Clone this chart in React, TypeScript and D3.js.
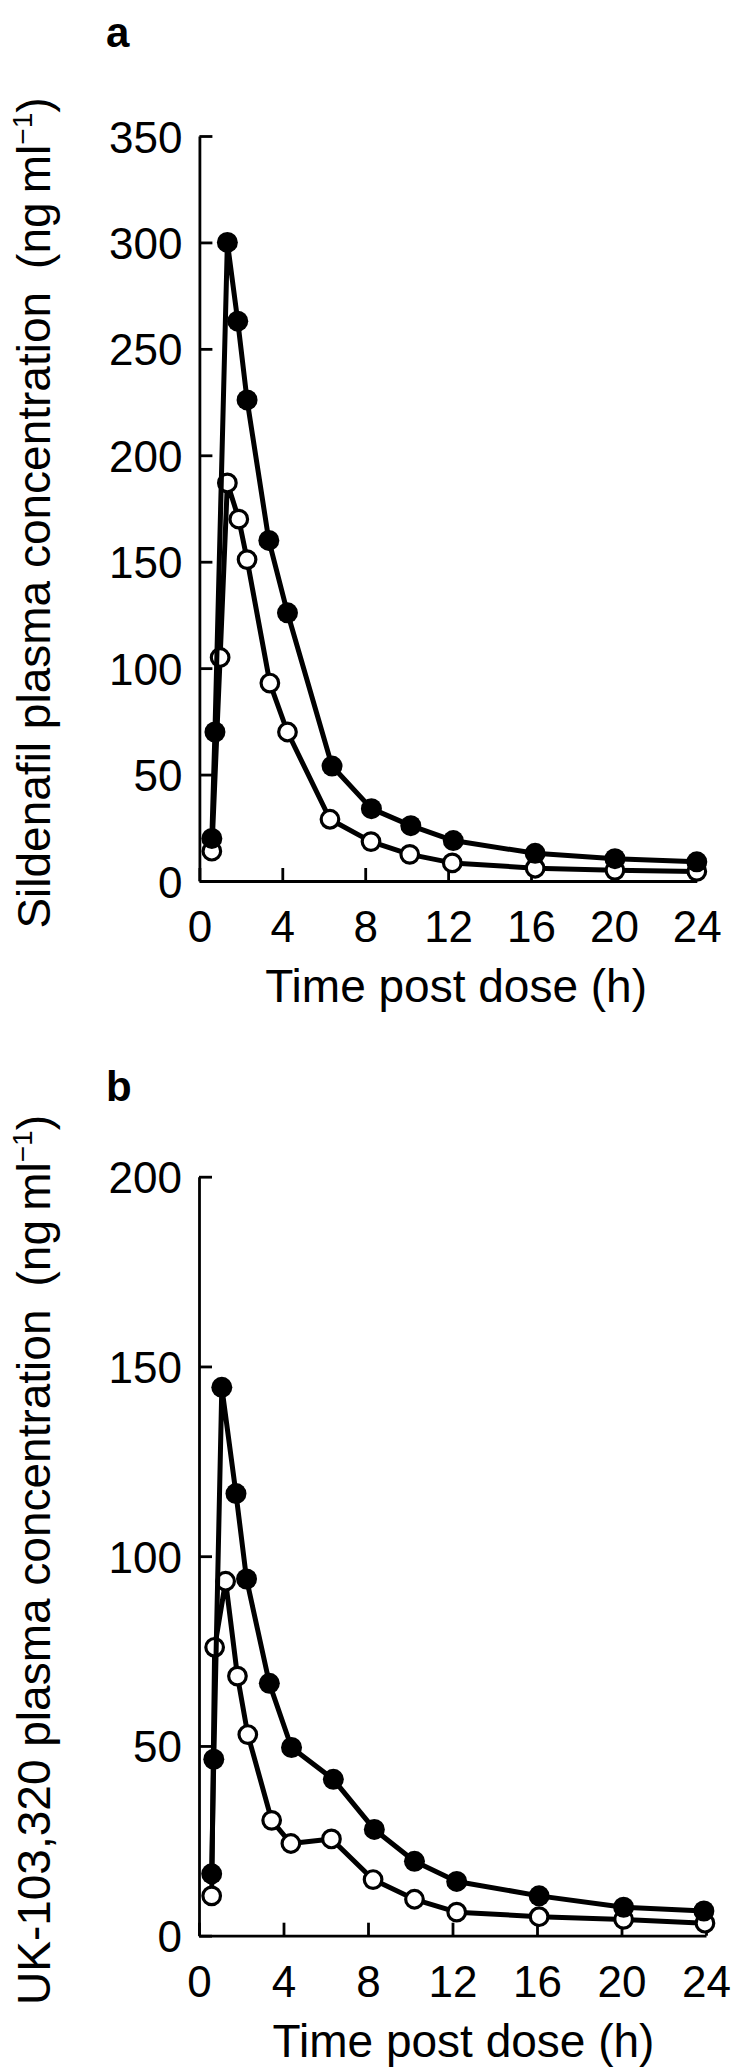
import { useEffect, useRef } from 'react';
import * as d3 from 'd3';

// Panel a: sildenafil (ng/ml), filled and open circles
const timesFilledA = [0.6, 0.75, 1.35, 1.85, 2.3, 3.35, 4.25, 6.4, 8.3, 10.2, 12.25, 16.2, 20.05, 24];
const filledA = [20, 70, 300, 263, 226, 160, 126, 54, 34, 26, 19, 13, 10.5, 9];
const timesOpenA = [0.6, 1.0, 1.35, 1.9, 2.3, 3.4, 4.25, 6.3, 8.28, 10.15, 12.2, 16.2, 20.05, 24];
const openA = [14, 105, 187, 170, 151, 93, 70, 29, 18.5, 12.5, 8.5, 6, 5, 4.5];

// Panel b: UK-103,320 (ng/ml)
const timesFilledB = [0.6, 0.7, 1.08, 1.75, 2.25, 3.33, 4.38, 6.36, 8.3, 10.2, 12.2, 16.1, 20.1, 23.9];
const filledB = [16.3, 46.5, 144.5, 116.5, 94, 66.5, 49.6, 41.2, 28, 19.6, 14.3, 10.5, 7.5, 6.5];
const timesOpenB = [0.6, 0.74, 1.26, 1.82, 2.31, 3.44, 4.35, 6.27, 8.24, 10.2, 12.2, 16.1, 20.1, 23.95];
const openB = [10.5, 76, 93.4, 68.4, 53, 30.4, 24.3, 25.5, 14.8, 9.6, 6.2, 5, 4.3, 3.3];

const xTicks = [0, 4, 8, 12, 16, 20, 24];
const yTicksA = [0, 50, 100, 150, 200, 250, 300, 350];
const yTicksB = [0, 50, 100, 150, 200];

const FONT = '"Liberation Sans", Arial, Helvetica, sans-serif';

interface Series {
  t: number[];
  v: number[];
  filled: boolean;
}

interface PanelCfg {
  letter: string;
  letterY: number;
  xRange: [number, number];
  yRange: [number, number];
  yMax: number;
  yTicks: number[];
  yTitle: string;
  yTitleCenter: number;
  xTitleShift: number;
  series: Series[];
}

function drawPanel(svg: d3.Selection<SVGSVGElement, unknown, null, undefined>, cfg: PanelCfg) {
  const x = d3.scaleLinear().domain([0, 24]).range(cfg.xRange);
  const y = d3.scaleLinear().domain([0, cfg.yMax]).range(cfg.yRange);
  const g = svg.append('g');

  // panel letter
  g.append('text')
    .attr('x', 106)
    .attr('y', cfg.letterY)
    .attr('font-family', FONT)
    .attr('font-weight', 'bold')
    .attr('font-size', 42)
    .text(cfg.letter);

  // X axis
  const xAxis = g.append('g')
    .attr('transform', `translate(0,${cfg.yRange[0]})`)
    .call(d3.axisBottom(x).tickValues(xTicks).tickSizeInner(-13).tickSizeOuter(0).tickPadding(0));
  xAxis.select('.domain').attr('stroke-width', 2.8);
  xAxis.selectAll('.tick line').attr('stroke-width', 2.8);
  xAxis.selectAll('.tick text')
    .attr('y', 61)
    .attr('dy', null)
    .attr('font-family', FONT)
    .attr('font-size', 44)
    .attr('fill', '#000');

  // Y axis
  const yAxis = g.append('g')
    .attr('transform', `translate(${cfg.xRange[0]},0)`)
    .call(d3.axisLeft(y).tickValues(cfg.yTicks).tickSizeInner(-13).tickSizeOuter(0).tickPadding(17));
  yAxis.select('.domain').attr('stroke-width', 2.8);
  yAxis.selectAll('.tick line').attr('stroke-width', 2.8);
  yAxis.selectAll('.tick text')
    .attr('dy', 16)
    .attr('font-family', FONT)
    .attr('font-size', 44)
    .attr('fill', '#000');

  // axis titles
  g.append('text')
    .attr('x', (cfg.xRange[0] + cfg.xRange[1]) / 2 + cfg.xTitleShift)
    .attr('y', cfg.yRange[0] + 121)
    .attr('text-anchor', 'middle')
    .attr('font-family', FONT)
    .attr('font-size', 46)
    .text('Time post dose (h)');

  const yt = g.append('text')
    .attr('transform', `translate(50,${cfg.yTitleCenter}) rotate(-90)`)
    .attr('text-anchor', 'middle')
    .attr('font-family', FONT)
    .attr('font-size', 46);
  yt.append('tspan').text(`${cfg.yTitle}\u2002(ng\u2009ml`);
  yt.append('tspan').attr('font-size', 28).attr('dy', -18).text('\u22121');
  yt.append('tspan').attr('dy', 18).text(')');

  const line = d3.line<[number, number]>()
    .x(d => x(d[0]))
    .y(d => y(d[1]));

  cfg.series.forEach(s => {
    const pts: [number, number][] = s.t.map((t, i) => [t, s.v[i]]);
    g.append('path')
      .datum(pts)
      .attr('d', line)
      .attr('fill', 'none')
      .attr('stroke', '#000')
      .attr('stroke-width', 5)
      .attr('stroke-linejoin', 'round');

    g.selectAll(null)
      .data(pts)
      .enter().append('circle')
      .attr('cx', d => x(d[0]))
      .attr('cy', d => y(d[1]))
      .attr('r', s.filled ? 10.5 : 8.8)
      .attr('fill', s.filled ? '#000' : '#fff')
      .attr('stroke', '#000')
      .attr('stroke-width', s.filled ? 0 : 3.2);
  });
}

export default function App() {
  const ref = useRef<SVGSVGElement | null>(null);

  useEffect(() => {
    if (!ref.current) return;
    const svg = d3.select(ref.current);
    svg.selectAll('*').remove();

    drawPanel(svg, {
      letter: 'a',
      letterY: 47,
      xRange: [199.4, 696.8],
      yRange: [881, 136],
      yMax: 350,
      yTicks: yTicksA,
      yTitle: 'Sildenafil plasma concentration',
      yTitleCenter: 513,
      xTitleShift: 8,
      series: [
        { t: timesOpenA, v: openA, filled: false },
        { t: timesFilledA, v: filledA, filled: true },
      ],
    });

    drawPanel(svg, {
      letter: 'b',
      letterY: 1101,
      xRange: [199, 706],
      yRange: [1935.7, 1176.7],
      yMax: 200,
      yTicks: yTicksB,
      yTitle: 'UK-103,320 plasma concentration',
      yTitleCenter: 1560,
      xTitleShift: 11,
      series: [
        { t: timesOpenB, v: openB, filled: false },
        { t: timesFilledB, v: filledB, filled: true },
      ],
    });
  }, []);

  return (
    <svg
      ref={ref}
      width={739}
      height={2072}
      style={{ position: 'absolute', left: 0, top: 0, background: '#fff' }}
    />
  );
}
